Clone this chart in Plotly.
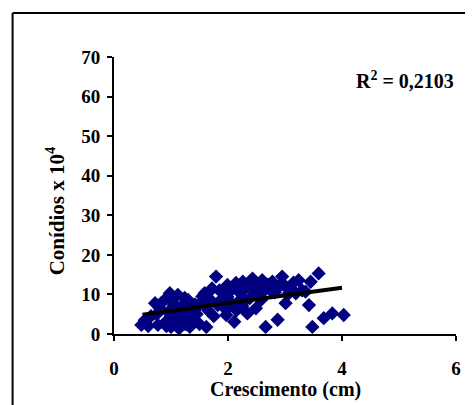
import plotly.graph_objects as go

# Scatter data (Crescimento cm, Conídios x 10^4)
crescimento = [
    0.48, 0.54, 0.60, 0.65, 0.72, 0.77, 0.80, 0.83, 0.75,
    0.90, 0.95, 0.98, 1.00, 1.02, 1.05, 1.08, 1.12, 1.14, 1.15, 1.18, 1.20, 1.24,
    1.25, 1.28, 1.30, 1.33, 1.35, 1.38, 1.40, 0.88, 1.10, 1.22,
    1.45, 1.50, 1.55, 1.59, 1.62, 1.65, 1.67, 1.70, 1.75, 1.79, 1.82, 1.85, 1.90,
    1.95, 1.97, 1.97, 1.99, 1.99, 1.50, 1.72,
    2.05, 2.11, 2.14, 2.17, 2.20, 2.26, 2.30, 2.34, 2.38, 2.43, 2.45, 2.49, 2.52,
    2.58, 2.60, 2.64, 2.66, 2.70, 2.25, 2.40, 2.08, 2.55,
    2.78, 2.82, 2.87, 2.90, 2.95, 3.01, 3.01, 3.05, 3.10, 3.19, 3.24, 3.30, 3.36,
    3.42, 3.45, 3.48, 3.59, 2.75, 3.15,
    3.68, 3.83, 4.03,
    1.10, 1.30, 1.42, 1.60, 2.15, 2.30, 1.05, 0.92,
]
conidios = [
    2.3, 3.5, 2.0, 4.5, 7.8, 2.3, 6.5, 7.8, 5.0,
    3.0, 5.5, 10.3, 1.8, 8.0, 4.0, 6.0, 9.9, 1.4, 3.0, 7.0, 5.0, 9.1,
    2.5, 6.5, 8.6, 1.8, 4.0, 3.0, 6.0, 8.5, 2.5, 3.8,
    5.0, 7.5, 9.5, 10.3, 1.8, 6.0, 10.7, 8.5, 4.5, 14.5, 7.3, 11.0, 9.0,
    10.5, 4.8, 6.1, 12.4, 9.4, 2.5, 11.5,
    11.0, 3.1, 12.9, 8.0, 10.5, 13.2, 11.5, 5.2, 9.0, 14.0, 11.0, 6.5, 12.5,
    8.6, 13.6, 11.0, 1.8, 12.5, 7.0, 12.0, 7.5, 10.0,
    13.2, 10.5, 3.6, 12.0, 14.5, 12.0, 7.8, 10.0, 11.5, 10.3, 13.6, 11.0, 10.7,
    7.3, 13.2, 1.8, 15.3, 11.0, 13.0,
    4.0, 5.2, 4.8,
    5.0, 5.0, 7.5, 8.0, 6.0, 8.5, 7.0, 2.0,
]

# Linear trend line
trend_x = [0.5, 4.0]
trend_y = [4.9, 11.7]

x_ticks = [0, 2, 4, 6]
y_ticks = [0, 10, 20, 30, 40, 50, 60, 70]

FONT = "Times New Roman, Liberation Serif, serif"

fig = go.Figure()
fig.add_trace(go.Scatter(
    x=crescimento, y=conidios, mode="markers",
    marker=dict(symbol="diamond", size=11, color="#000080", line=dict(width=0)),
    showlegend=False, hoverinfo="skip",
))
fig.add_trace(go.Scatter(
    x=trend_x, y=trend_y, mode="lines",
    line=dict(color="black", width=4),
    showlegend=False, hoverinfo="skip",
))

# page body has an 8px margin, so the figure is offset by 8px
OFF = 8
W, H = 473 - OFF, 405 - OFF
L, T = 114 - OFF, 57 - OFF
R = W - (458 - OFF)
B = H - (334 - OFF)
pw, ph = W - L - R, H - T - B

def px(xp):  # xp: pixel in the window
    return (xp - OFF - L) / pw

def py(yp):
    return (H - B - (yp - OFF)) / ph

fig.update_layout(
    width=W, height=H,
    margin=dict(l=L, r=R, t=T, b=B, pad=0),
    paper_bgcolor="white", plot_bgcolor="white",
    font=dict(family=FONT, size=19, color="black"),
    xaxis=dict(
        range=[0, 6], tickvals=x_ticks, showgrid=False, zeroline=False,
        showline=True, linecolor="black", linewidth=2,
        ticks="outside", ticklen=5, tickwidth=1.5, tickcolor="black",
        tickfont=dict(family=FONT, size=19, color="black", weight="bold"),
        ticklabelstandoff=11,
    ),
    yaxis=dict(
        range=[0, 70], tickvals=y_ticks, showgrid=False, zeroline=False,
        showline=True, linecolor="black", linewidth=2,
        ticks="outside", ticklen=5, tickwidth=1.5, tickcolor="black",
        tickfont=dict(family=FONT, size=19, color="black", weight="bold"),
        ticklabelstandoff=3,
    ),
    annotations=[
        dict(text="<b>Crescimento (cm)</b>", xref="paper", yref="paper",
             x=0.5, y=py(389), xanchor="center", yanchor="middle",
             showarrow=False, font=dict(family=FONT, size=20, color="black")),
        dict(text="<b>Conídios x 10<sup>4</sup></b>", xref="paper", yref="paper",
             x=px(55), y=py(211), xanchor="center", yanchor="middle", textangle=-90,
             showarrow=False, font=dict(family=FONT, size=21, color="black")),
        dict(text="<b>R<sup>2</sup> = 0,2103</b>", xref="paper", yref="paper",
             x=px(407), y=py(80), xanchor="center", yanchor="middle",
             showarrow=False, font=dict(family=FONT, size=20, color="black")),
    ],
    shapes=[
        dict(type="line", xref="paper", yref="paper",
             x0=px(12), x1=px(12), y0=py(13), y1=py(420),
             line=dict(color="black", width=2)),
        dict(type="line", xref="paper", yref="paper",
             x0=px(12), x1=px(480), y0=py(13), y1=py(13),
             line=dict(color="black", width=2)),
    ],
)

fig.write_html("out.html")
